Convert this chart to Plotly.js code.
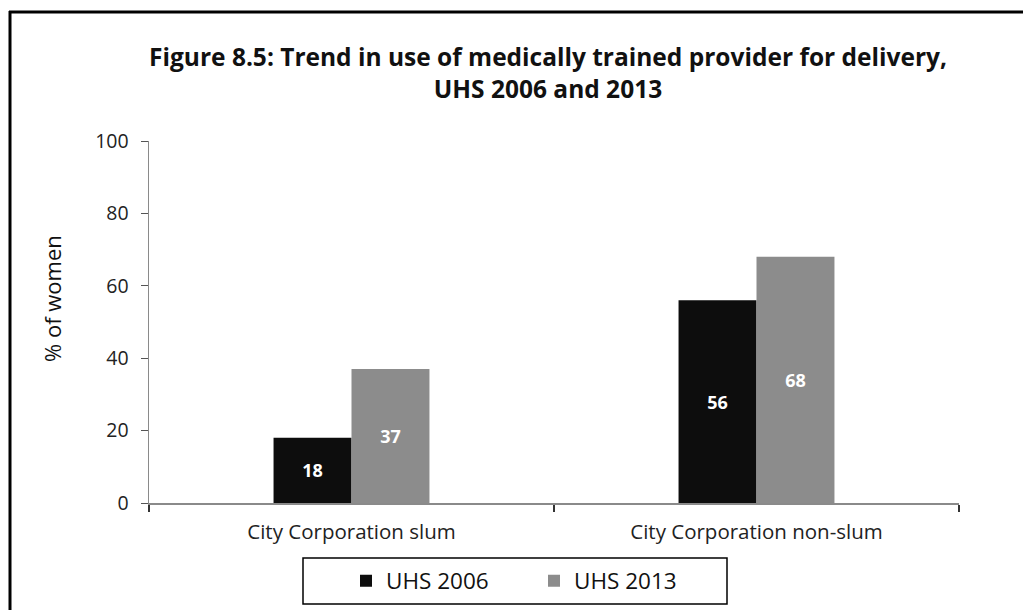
<!DOCTYPE html>
<html>
<head>
<meta charset="utf-8">
<script src="https://cdn.plot.ly/plotly-3.0.1.min.js"></script>
<style>html,body{margin:0;padding:0;background:#fff;}#chart{width:1023px;height:610px;}</style>
</head>
<body>
<div id="chart"></div>
<script>
const categories = ["City Corporation slum", "City Corporation non-slum"];
const uhs2006 = [18, 56];
const uhs2013 = [37, 68];
const seriesNames = ["UHS 2006", "UHS 2013"];
const yTicks = [0, 20, 40, 60, 80, 100];
const yTitle = "% of women";

const W = 1023, H = 610;
const L = 149, R = 64, T = 141, B = 107;
const pw = W - L - R, ph = H - T - B;
function px(x) { return (x - L) / pw; }
function py(y) { return (H - B - y) / ph; }

const font = "Open Sans, Liberation Sans, sans-serif";

const traces = [
  {
    type: "bar", name: seriesNames[0], x: categories, y: uhs2006,
    marker: {color: "#0d0d0d"},
    text: uhs2006.map(String), textposition: "inside", insidetextanchor: "middle",
    textfont: {color: "#ffffff", size: 18, family: font, weight: "bold"},
    hoverinfo: "none"
  },
  {
    type: "bar", name: seriesNames[1], x: categories, y: uhs2013,
    marker: {color: "#8c8c8c"},
    text: uhs2013.map(String), textposition: "inside", insidetextanchor: "middle",
    textfont: {color: "#ffffff", size: 18, family: font, weight: "bold"},
    hoverinfo: "none"
  }
];

const layout = {
  width: W, height: H,
  margin: {l: L, r: R, t: T, b: B, pad: 0, autoexpand: false},
  paper_bgcolor: "#ffffff", plot_bgcolor: "#ffffff",
  barmode: "group", bargap: 0.615, bargroupgap: 0,
  font: {family: font, color: "#222"},
  title: {
    text: "<b>Figure 8.5: Trend in use of medically trained provider for delivery,<br>UHS 2006 and 2013</b>",
    font: {size: 24.5, family: font, color: "#111"},
    x: px(548), xanchor: "center", xref: "paper",
    y: 1 - 66 / H, yanchor: "top", yref: "container"
  },
  xaxis: {
    type: "category", range: [-0.5, 1.5],
    showline: true, linecolor: "#8a8a8a", linewidth: 2,
    ticks: "outside", tickson: "boundaries", ticklen: 7, tickcolor: "#333", tickwidth: 1.5,
    tickfont: {size: 20.5, family: font, color: "#222"},
    ticklabelstandoff: 9,
    showgrid: false, zeroline: false, fixedrange: true
  },
  yaxis: {
    range: [0, 100], tickvals: yTicks,
    showline: true, linecolor: "#8a8a8a", linewidth: 1.5,
    ticks: "outside", ticklen: 7, tickcolor: "#555", tickwidth: 1,
    tickfont: {size: 19.5, family: font, color: "#222"},
    ticklabelstandoff: 8,
    showgrid: false, zeroline: false,
    fixedrange: true
  },
  annotations: [
    {text: yTitle, textangle: -90, xref: "paper", yref: "paper", x: px(52), y: py(299),
     xanchor: "center", yanchor: "middle", showarrow: false,
     font: {size: 22, family: font, color: "#111"}}
  ],
  showlegend: true,
  legend: {
    orientation: "h", xref: "container", yref: "container",
    x: 534 / W, xanchor: "center", y: 1 - 581 / H, yanchor: "middle",
    borderwidth: 0, bgcolor: "rgba(0,0,0,0)",
    font: {size: 22.5, family: font, color: "#111"},
    entrywidth: 143, itemwidth: 30, traceorder: "normal"
  },
  shapes: [
    {type: "rect", xref: "paper", yref: "paper", x0: px(303), x1: px(727), y0: py(558), y1: py(604), line: {color: "#000", width: 1.5}, fillcolor: "rgba(0,0,0,0)", layer: "below"},
    {type: "line", xref: "paper", yref: "paper", x0: px(10), x1: px(10), y0: py(11), y1: py(612), line: {color: "#000", width: 3}},
    {type: "line", xref: "paper", yref: "paper", x0: px(9), x1: px(1025), y0: py(12), y1: py(12), line: {color: "#000", width: 3}}
  ]
};

Plotly.newPlot("chart", traces, layout, {displayModeBar: false, staticPlot: true});
</script>
</body>
</html>
